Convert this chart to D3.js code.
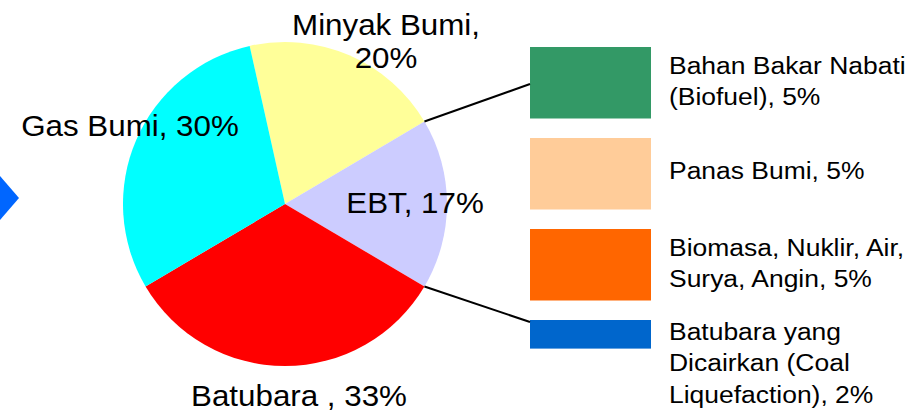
<!DOCTYPE html>
<html>
<head>
<meta charset="utf-8">
<script src="https://cdn.jsdelivr.net/npm/d3@7"></script>
<style>
  html, body { margin: 0; padding: 0; background: #fff; }
  svg { display: block; font-family: "Liberation Sans", Arial, sans-serif; }
</style>
</head>
<body>
<div id="chart"></div>
<script>
// pie slices (clockwise from the top-right)
const pieNames = ["Minyak Bumi", "EBT", "Batubara", "Gas Bumi"];
const pieValues = [20, 17, 33, 30];
const pieLabels = [["Minyak Bumi,", "20%"], ["EBT, 17%"], ["Batubara , 33%"], ["Gas Bumi, 30%"]];
const pieColors = ["#ffff99", "#ccccff", "#ff0000", "#00ffff"];

// breakdown of EBT
const barNames = ["Biofuel", "Panas Bumi", "Biomasa", "Coal Liquefaction"];
const barValues = [5, 5, 5, 2];
const barLabels = [
  ["Bahan Bakar Nabati", "(Biofuel), 5%"],
  ["Panas Bumi, 5%"],
  ["Biomasa, Nuklir, Air,", "Surya, Angin, 5%"],
  ["Batubara yang", "Dicairkan (Coal", "Liquefaction), 2%"]
];
const barColors = ["#339966", "#ffcc99", "#ff6600", "#0066cc"];

const W = 924, H = 412;
const cx = 285, cy = 204, r = 162;
const sx = 1.08; // text in the picture is slightly stretched sideways

const svg = d3.select("#chart").append("svg")
  .attr("width", W)
  .attr("height", H);

// blue arrow head cut off at the left edge
svg.append("path")
  .attr("d", "M0,176 L19,198 L0,220 Z")
  .attr("fill", "#0066ff");

// the split slice (EBT) is centred on 3 o'clock
const total = d3.sum(pieValues);
const start = Math.PI / 2 - (pieValues[0] + pieValues[1] / 2) / total * 2 * Math.PI;

const pie = d3.pie().sort(null).startAngle(start).endAngle(start + 2 * Math.PI);
const arcs = pie(pieValues);
const arc = d3.arc().innerRadius(0).outerRadius(r);

const g = svg.append("g").attr("transform", `translate(${cx},${cy})`);

g.selectAll("path")
  .data(arcs)
  .join("path")
  .attr("d", arc)
  .attr("fill", (d, i) => pieColors[i]);

// bar stack
const barX = 530, barW = 121, barTop = 47, gap = 19.5;
const hScale = d3.scaleLinear().domain([0, 5]).range([0, 71.5]);
let acc = barTop;
const bars = barValues.map((v, i) => {
  const b = { i, y: acc, h: hScale(v) };
  acc += hScale(v) + gap;
  return b;
});

svg.selectAll("rect.bar")
  .data(bars)
  .join("rect")
  .attr("class", "bar")
  .attr("x", barX)
  .attr("y", d => d.y)
  .attr("width", barW)
  .attr("height", d => d.h)
  .attr("fill", d => barColors[d.i]);

// connector lines from the EBT slice edges
const ebt = arcs[1];
const edge = a => [cx + r * Math.sin(a), cy - r * Math.cos(a)];
const p1 = edge(ebt.startAngle), p2 = edge(ebt.endAngle);
svg.append("line")
  .attr("x1", p1[0]).attr("y1", p1[1])
  .attr("x2", barX).attr("y2", bars[0].y + 37)
  .attr("stroke", "#000").attr("stroke-width", 2);
svg.append("line")
  .attr("x1", p2[0]).attr("y1", p2[1])
  .attr("x2", barX).attr("y2", bars[3].y + 2)
  .attr("stroke", "#000").attr("stroke-width", 2);

// pie labels
const labelAt = [[386, 25], [415, 203], [299, 396], [130, 126]];
const lh = 33;
pieLabels.forEach((lines, i) => {
  const x = labelAt[i][0] / sx;
  const t = svg.append("text")
    .attr("transform", `scale(${sx},1)`)
    .attr("text-anchor", "middle")
    .style("font-size", "29px")
    .attr("fill", "#000");
  lines.forEach((s, j) => {
    t.append("tspan")
      .attr("x", x)
      .attr("y", labelAt[i][1] + j * lh)
      .attr("dy", "0.35em")
      .text(s);
  });
});

// bar labels
const blh = 31.5;
bars.forEach(b => {
  const lines = barLabels[b.i];
  const mid = b.y + b.h / 2;
  const y0 = lines.length === 2 ? mid - blh / 2 - 2 : mid - 3;
  const t = svg.append("text")
    .attr("transform", `scale(${sx},1)`)
    .style("font-size", "24.5px")
    .attr("fill", "#000");
  lines.forEach((s, j) => {
    t.append("tspan")
      .attr("x", 669 / sx)
      .attr("y", y0 + j * blh)
      .attr("dy", "0.35em")
      .text(s);
  });
});
</script>
</body>
</html>
